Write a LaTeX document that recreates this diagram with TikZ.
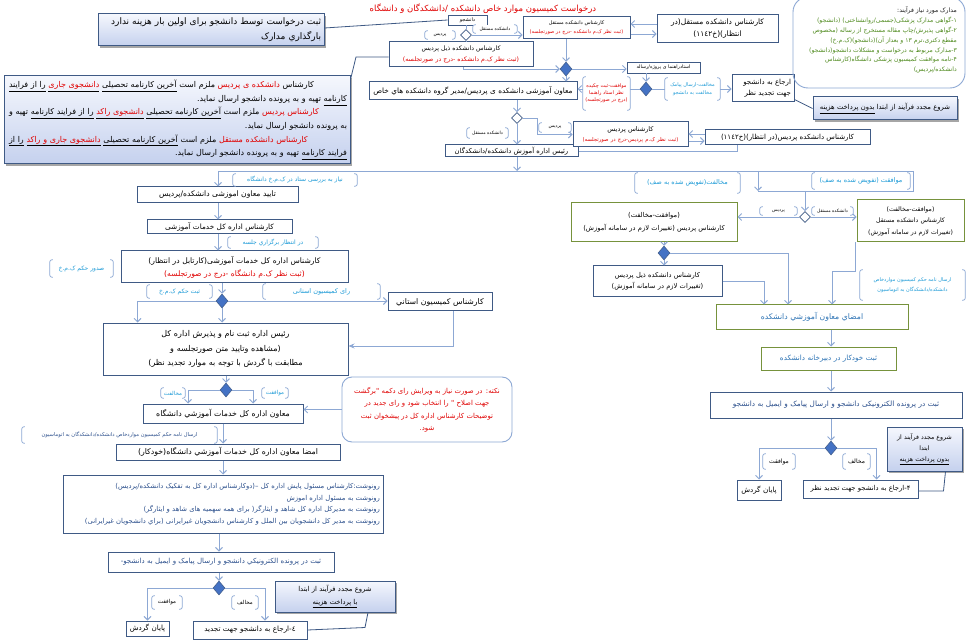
\documentclass[tikz,border=0pt]{standalone}
\usepackage{fontspec}
\setmainfont{DejaVu Sans}
\newfontfamily\fa[Script=Arabic]{DejaVu Sans}
\newfontfamily\faRd[Script=Arabic,Color=E00000]{DejaVu Sans}
\newfontfamily\faBk[Script=Arabic,Color=1A1A1A]{DejaVu Sans}
\TeXXeTstate=1
\usetikzlibrary{arrows.meta,shapes.geometric,shadows}
\definecolor{bxc}{HTML}{3F5A85}
\definecolor{lnc}{HTML}{8DA8D4}
\definecolor{cyn}{HTML}{1E9BD7}
\definecolor{gbc}{HTML}{76923C}
\definecolor{dfc}{HTML}{4472C4}
\definecolor{grn}{HTML}{4F8A1E}
\definecolor{dbl}{HTML}{2B4F8C}
\definecolor{tbl}{HTML}{2E74B5}
\definecolor{rd}{HTML}{E00000}
\definecolor{shA}{HTML}{F5F7FD}
\definecolor{shB}{HTML}{C5D1EE}
\newcommand\rtl[1]{\mbox{\beginR#1\endR}}
\newcommand\jrtl[1]{\makebox[338pt][s]{\beginR#1\endR}}
\newcommand\crtl[2]{\mbox{#1\beginR#2\endR}}
\newcommand\urtl[1]{\mbox{\underline{\beginR#1\endR}}}
\newcommand\curtl[2]{\mbox{#1\underline{\beginR#2\endR}}}
\newcommand\bx[7][]{%
 \pgfmathsetmacro\bxW{#5-#3}\pgfmathsetmacro\bxH{#6-#4}\pgfmathsetmacro\bxT{#5-#3-6}%
 \pgfmathsetmacro\bxX{(#3+#5)/2}\pgfmathsetmacro\bxY{(#4+#6)/2}%
 \node[box,#1,minimum width=\bxW pt,minimum height=\bxH pt,text width=\bxT pt] (#2) at (\bxX,\bxY) {#7};}
\newcommand\blab[7][]{%
 \pgfmathsetmacro\bxW{#5-#3}\pgfmathsetmacro\bxH{#6-#4}%
 \pgfmathsetmacro\bxX{(#3+#5)/2}\pgfmathsetmacro\bxY{(#4+#6)/2}%
 \node[lbl,#1,minimum width=\bxW pt,minimum height=\bxH pt] (#2) at (\bxX,\bxY) {#7};
 \draw[brk] ([xshift=3pt]#2.north west) -| (#2.west) |- ([xshift=3pt]#2.south west);
 \draw[brk] ([xshift=-3pt]#2.north east) -| (#2.east) |- ([xshift=-3pt]#2.south east);}
\begin{document}
\begin{tikzpicture}[x=1pt,y=-1pt,
 fz/.style 2 args={font=\fa\fontsize{#1}{#2}\selectfont},
 box/.style={draw=bxc,line width=1pt,fill=white,inner sep=1pt,align=center,text=black},
 gbox/.style={draw=gbc},
 shbox/.style={top color=shA,bottom color=shB,drop shadow={shadow xshift=1.8pt,shadow yshift=-1.8pt,opacity=0.35,fill=black}},
 lbl/.style={inner sep=0pt,align=center,fill=white},
 brk/.style={draw=lnc,line width=0.7pt,rounded corners=2pt},
 ln/.style={draw=lnc,line width=0.9pt},
 ar/.style={ln,-{Straight Barb[length=3.5pt,width=7pt]}},
 dk/.style={draw=bxc,line width=0.8pt},
 dfill/.style={diamond,draw=bxc,fill=dfc,line width=0.5pt,minimum width=12pt,minimum height=14pt,inner sep=0pt},
 dhol/.style={diamond,draw=bxc,fill=white,line width=0.8pt,minimum width=11pt,minimum height=11pt,inner sep=0pt},
]
\useasboundingbox (0,0) rectangle (969,644);
\fill[white] (0,0) rectangle (969,644);

% ---------- top area ----------
\node[fz={8.5}{10},text=rd] (title) at (483,9) {\rtl{درخواست کمیسیون موارد خاص دانشکده /دانشکدگان و دانشگاه}};
\bx[shbox,align=right,fz={9}{15}]{A}{98}{14}{324}{46}{\rtl{ثبت درخواست توسط دانشجو برای اولین بار هزینه ندارد}\\\rtl{بارگذاري مدارک}}
\bx[fz={5}{6},line width=0.8pt]{stu}{448}{15}{487}{25}{\rtl{دانشجو}}
\node[dhol] (D0) at (466,35) {};
\bx[fz={5}{9}]{B1}{523}{17}{630}{39}{\rtl{کارشناس دانشکده مستقل}\\\rtl{\crtl{\faRd}{(ثبت نظر ک.م دانشکده -درج در صورتجلسه)}}}
\bx[fz={7.5}{12}]{W1}{657}{15}{778}{43}{\rtl{کارشناس دانشکده مستقل(در}\\\rtl{انتظار)(خ۱۱٤۲)}}
\bx[fz={6.2}{10.5}]{B2}{389}{42}{533}{67}{\rtl{کارشناس دانشکده ذیل پردیس}\\\rtl{\crtl{\faRd}{(ثبت نظر ک.م دانشکده -درج در صورتجلسه)}}}
\node[dfill] (D1) at (566,69) {};
\bx[fz={4.8}{6},line width=0.8pt]{C1}{627}{62}{700}{73}{\rtl{استادراهنما ی پروژه/رساله}}
\node[dfill] (D2) at (646,89) {};
\bx[fz={7.3}{8}]{B3}{369}{82}{577}{100}{\rtl{معاون آموزشی دانشکده ی پردیس/مدیر گروه دانشکده هاي خاص}}
\bx[align=right,fz={7}{11}]{C2}{732}{75}{794}{102}{\rtl{ارجاع به دانشجو}\\\rtl{جهت تجدید نظر}}
\bx[shbox,fz={6.8}{8}]{C3}{813}{97}{957}{120}{\rtl{شروع مجدد فرآیند از ابتدا \urtl{بدون پرداخت هزینه}}}
\draw[draw=lnc,line width=0.9pt,rounded corners=15pt] (793,-3) rectangle (965,88);
\node[fz={6.1}{9.8},text=grn,align=right,anchor=north east,inner sep=0pt] (R1t) at (957,7) {\rtl{\crtl{\faBk}{مدارک مورد نیاز فرآیند:}}\\\rtl{۱-گواهی مدارک پزشکی(جسمی/روانشناختی) (دانشجو)}\\\rtl{۲-گواهی پذیرش/چاپ مقاله مستخرج از رساله (مخصوص}\\\rtl{مقطع دکتری،ترم ۱۳ و بعداز آن)(دانشجو)(ک.م.خ)}\\\rtl{۳-مدارک مربوط به درخواست و مشکلات دانشجو(دانشجو)}\\\rtl{۴-نامه موافقت کمیسیون پزشکی دانشگاه(کارشناس}\\\rtl{دانشکده/پردیس)}};
\node[dhol] (D3) at (517,118) {};
\bx[fz={6.8}{8}]{B4}{445}{145}{578}{157}{\rtl{رئیس اداره آموزش دانشکده/دانشکدگان}}
\bx[fz={6.5}{10}]{B5}{573}{122}{688}{147}{\rtl{کارشناس پردیس}\\\rtl{\crtl{\faRd\fontsize{5.3}{6}\selectfont}{(ثبت نظر ک.م پردیس-درج در صورتجلسه)}}}
\bx[fz={7}{8}]{B6}{705}{130}{870}{145}{\rtl{کارشناس دانشکده پردیس(در انتظار)(خ۱۱٤۲)}}
\bx[shbox,align=right,fz={8}{13.6}]{T}{4}{76}{350}{164}{%
\jrtl{کارشناس \crtl{\faRd}{دانشکده ی پردیس} ملزم است \urtl{آخرین کارنامه تحصیلی} \curtl{\faRd}{دانشجوی جاری} \urtl{را از فرایند}}\\
\rtl{\urtl{کارنامه} تهیه و به پرونده دانشجو ارسال نماید.}\\
\jrtl{\crtl{\faRd}{کارشناس پردیس} ملزم است \urtl{آخرین کارنامه تحصیلی} \curtl{\faRd}{دانشجوی راکد} \urtl{را از فرایند کارنامه} تهیه و}\\
\rtl{به پرونده دانشجو ارسال نماید.}\\
\jrtl{\crtl{\faRd}{کارشناس دانشکده مستقل} ملزم است \urtl{آخرین کارنامه تحصیلی} \curtl{\faRd}{دانشجوی جاری و راکد} \urtl{را از}}\\
\rtl{\urtl{فرایند کارنامه} تهیه و به پرونده دانشجو ارسال نماید.}}

% ---------- left column ----------
\bx[fz={7.6}{8}]{L1}{137}{187}{298}{203}{\rtl{تایید معاون اموزشی دانشکده/پردیس}}
\bx[fz={7.3}{8}]{L2}{147}{220}{292}{234}{\rtl{کارشناس اداره کل خدمات آموزشی}}
\bx[fz={7.6}{13}]{L3}{121}{251}{348}{283}{\rtl{کارشناس اداره کل خدمات آموزشی(کارتابل در انتظار)}\\\rtl{\crtl{\faRd}{(ثبت نظر ک.م دانشگاه  -درج در صورتجلسه)}}}
\node[dfill] (D5) at (222,301) {};
\bx[fz={7.8}{8}]{L5}{388}{293}{492}{311}{\rtl{کارشناس کمیسیون استاني}}
\bx[fz={8}{14.5}]{L4}{103}{323}{348}{375}{\rtl{رئیس اداره ثبت نام و پذیرش اداره کل}\\\rtl{(مشاهده وتایید متن صورتجلسه و}\\\rtl{مطابقت با گردش با توجه به موارد تجدید نظر)}}
\node[dfill] (D6) at (226,390) {};
\bx[fz={7.8}{8}]{L6}{143}{404}{303}{423}{\rtl{معاون اداره کل خدمات آموزشي دانشگاه}}
\bx[draw=lnc,line width=0.9pt,rounded corners=10pt,text=rd,fz={6.9}{12.5}]{N}{342}{377}{512}{442}{\rtl{نکته: در صورت نیاز به ویرایش رای دکمه "برگشت}\\\rtl{جهت اصلاح " را انتخاب  شود و رای جدید در}\\\rtl{توضیحات  کارشناس  اداره کل در پیشخوان ثبت}\\\rtl{شود.}}
\bx[fz={7.8}{8}]{L7}{116}{444}{340}{460}{\rtl{امضا معاون اداره کل خدمات آموزشي دانشگاه(خودکار)}}
\bx[align=right,text=dbl,fz={6.8}{11.5}]{L8}{63}{475}{383}{533}{\rtl{رونوشت:کارشناس مسئول پایش اداره کل –(دوکارشناس  اداره کل به تفکیک دانشکده/پردیس)}\\\rtl{رونوشت به مسئول اداره اموزش}\\\rtl{رونوشت  به مدیرکل اداره کل شاهد و ایثارگر( برای  همه سهمیه های شاهد و ایثارگر)}\\\rtl{رونوشت به مدیر کل دانشجویان بین الملل و کارشناس دانشجویان غیرایرانی (براي دانشجویان غیرایرانی)}}
\bx[text=dbl,fz={7}{8}]{L9}{108}{552}{334}{572}{\rtl{ثبت در پرونده الکترونیکي دانشجو و ارسال پیامک و ایمیل به دانشجو-}}
\node[dfill] (D7) at (219,588) {};
\bx[fz={7.2}{8}]{L10}{126}{621}{169}{636}{\rtl{پایان گردش}}
\bx[fz={7.2}{8}]{L11}{193}{621}{307}{639}{\rtl{٤-ارجاع به دانشجو جهت تجدید}}
\bx[shbox,fz={6.8}{13}]{L12}{275}{581}{395}{612}{\rtl{شروع مجدد فرآیند از ابتدا}\\\urtl{با پرداخت هزینه}}

% ---------- right column ----------
\node[dhol] (D4) at (805,217) {};
\bx[gbox,fz={6.2}{11.5}]{R2}{857}{200}{964}{242}{\rtl{(موافقت-مخالفت)}\\\rtl{کارشناس دانشکده مستقل}\\\rtl{(تغییرات لازم در سامانه آموزش)}}
\bx[gbox,fz={6.7}{13}]{R3}{571}{203}{737}{242}{\rtl{(موافقت-مخالفت)}\\\rtl{کارشناس پردیس (تغییرات لازم در سامانه آموزش)}}
\node[dfill] (D8) at (664,253) {};
\bx[fz={6.7}{11}]{R4}{593}{266}{722}{297}{\rtl{کارشناس دانشکده ذیل پردیس}\\\rtl{(تغییرات لازم در سامانه آموزش)}}
\bx[gbox,text=tbl,fz={7.7}{8}]{R5}{716}{305}{908}{329}{\rtl{امضاي معاون آموزشي دانشکده}}
\bx[gbox,text=tbl,fz={7.2}{8}]{R6}{761}{347}{896}{370}{\rtl{ثبت خودکار در دبیرخانه دانشکده}}
\bx[text=dbl,fz={7.3}{8}]{R7}{710}{392}{962}{418}{\rtl{ثبت در پرونده الکترونیکی دانشجو و ارسال پیامک و ایمیل به دانشجو}}
\node[dfill] (D9) at (831,448) {};
\bx[fz={7.2}{8}]{R8}{737}{480}{781}{500}{\rtl{پایان گردش}}
\bx[fz={6.8}{8}]{R9}{803}{480}{918}{498}{\rtl{۴-ارجاع به دانشجو جهت تجدید نظر}}
\bx[shbox,fz={6.2}{11}]{R10}{887}{427}{962}{471}{\rtl{شروع مجدد فرآیند از}\\\rtl{ابتدا}\\\urtl{بدون پرداخت هزینه}}

% ---------- connectors ----------
\coordinate (h1) at (218,171);
\coordinate (h2) at (913,171);
\coordinate (h3) at (758,171);
\coordinate (h4) at (758,191);
\coordinate (h5) at (913,191);
\coordinate (tb) at (356,57);
\path ([yshift=5pt]W1.west) coordinate (w1a) ([yshift=-5pt]W1.west) coordinate (w1b);
\path ([yshift=3.5pt]B6.west) coordinate (b6a) ([yshift=-3.5pt]B6.west) coordinate (b6b);

\draw[dk] ([yshift=2pt]A.east) -- (stu.west);
\draw[ln] (stu.south -| D0) -- (D0.north);
\draw[ar] (D0.east) -- (D0.east -| B1.west);
\draw[ln] (D0.south) -- (D0.south |- B2.north);
\draw[dk] ([yshift=-4pt]T.north east) -- (tb) -- (tb -| B2.west);
\draw[ar] (B1.south -| D1) -- (D1.north);
\draw[ar] (w1a) -- (w1a -| B1.east);
\draw[ar] (w1b -| B1.east) -- (w1b);
\draw[ar] ([xshift=2pt]B2.south) |- (D1.west);
\draw[ar] (D1.east) -- (D1.east -| C1.west);
\draw[ar] (D1.south) -- (D1.south |- B3.north);
\draw[ar] (C1.south -| D2) -- (D2.north);
\draw[ar] (D2.west) -- (D2.west -| B3.east);
\draw[ar] (D2.east) -- (D2.east -| C2.west);
\draw[dk] ([yshift=3pt]C2.south east) -- (C3.west);
\draw[ar] (B3.south -| D3) -- (D3.north);
\draw[ar] (D3.south) -- (D3.south |- B4.north);
\draw[ar] (D3.east) -- ++(15,0) |- (B5.west);
\draw[ar] (b6a) -- (b6a -| B5.east);
\draw[ar] (b6b -| B5.east) -- (b6b);
\draw[ln] ([xshift=-50pt]B6.south) |- (B4.east);
\draw[ar] (B4.south -| D3) -- (D3 |- h1);
\draw[ln] (h1) -- (h2);
\draw[ar] (h1) -- (h1 |- L1.north);
\draw[ar] (h3) -- (h4);
\draw[ln] (h2) -- (h5) -- (h4);
\draw[ar] (D4 |- h4) -- (D4.north);
\draw[ar] (D4.east) -- (D4.east -| R2.west);
\draw[ar] (D4.west) -- (D4.west -| R3.east);
\draw[ar] (R3.south -| D8) -- (D8.north);
\draw[ar] (D8.south) -- (D8.south |- R4.north);
\draw[ar] (D8.east) -| ([xshift=-24pt]R5.north);
\draw[ar] (R4.east) -| ([xshift=-48pt]R5.north);
\draw[ar] ([xshift=-1pt]R2.south west) -- ++(0,29) -| ([xshift=20pt]R5.north);
\draw[ar] (R5.south -| D9) -- (R6.north -| D9);
\draw[ar] (R6.south -| D9) -- (R7.north -| D9);
\draw[ar] (R7.south -| D9) -- (D9.north);
\draw[ar] (D9.west) -| (R8.north);
\draw[ar] (D9.east) -| ([xshift=16pt]R9.north);
\draw[dk] ([xshift=-17pt]R10.south east) -- ([xshift=25pt,yshift=-2pt]R9.east) -- ([yshift=-2pt]R9.east);

\draw[ar] (L1.south -| h1) -- (L2.north -| h1);
\draw[ar] (L2.south -| h1) -- (L3.north -| h1);
\draw[ar] (L3.south -| D5) -- (D5.north);
\draw[ar] (D5.west) -| ([xshift=-88pt]L4.north);
\draw[ar] (D5.south) -- (D5.south |- L4.north);
\draw[ar] (D5.east) -- (D5.east -| L5.west);
\draw[ln,-{Stealth[length=6pt,width=5pt,fill=dfc]}] ([xshift=13pt]L5.south) |- ([yshift=3pt]L4.east);
\draw[ar] (L4.south -| D6) -- (D6.north);
\draw[ar] (D6.west) -| ([xshift=-35pt]L6.north);
\draw[ar] (D6.east) -| ([xshift=30pt]L6.north);
\draw[ar] (N.west) -- (N.west -| L6.east);
\draw[ar] (L6.south) -- (L6.south |- L7.north);
\draw[ar] (L6.south |- L7.south) -- (L6.south |- L8.north);
\draw[ar] (L8.south -| D7) -- (L9.north -| D7);
\draw[ar] (L9.south -| D7) -- (D7.north);
\draw[ar] (D7.west) -| (L10.north);
\draw[ar] (D7.east) -| ([xshift=15pt]L11.north);
\draw[dk] (L11.east) -- ([xshift=30pt,yshift=-15pt]L12.south) -- ([xshift=33pt]L12.south);

% ---------- labels ----------
\blab[fz={4.5}{5}]{lb1}{473}{25}{517}{33}{\rtl{دانشکده مستقل}}
\blab[fz={4.5}{5}]{lb2}{425}{31}{455}{39}{\rtl{پردیس}}
\blab[text=rd,fz={5}{7}]{lb3}{583}{77}{630}{110}{\rtl{موافقت-ثبت چکیده}\\\rtl{نظر استاد راهنما}\\\rtl{(درج در صورتجلسه)}}
\blab[text=cyn,fz={5}{7.5}]{lb4}{665}{78}{720}{100}{\rtl{مخالفت-ارسال پیامک}\\\rtl{مخالفت به دانشجو}}
\blab[fz={4.5}{5}]{lb5}{467}{128}{508}{138}{\rtl{دانشکده مستقل}}
\blab[fz={4.5}{5}]{lb6}{539}{123}{571}{132}{\rtl{پردیس}}
\blab[text=cyn,fz={6}{7}]{lb7}{233}{174}{357}{186}{\rtl{نیاز به بررسی ستاد در ک.م.خ دانشگاه}}
\blab[text=cyn,fz={6.5}{7}]{lb8}{635}{173}{740}{193}{\rtl{مخالفت(تفویض شده به صف)}}
\blab[text=cyn,fz={6.5}{7}]{lb9}{812}{173}{910}{189}{\rtl{موافقت (تفویض شده به صف)}}
\blab[fz={4.5}{5}]{lb10}{812}{207}{853}{215}{\rtl{دانشکده مستقل}}
\blab[fz={4.5}{5}]{lb11}{760}{207}{797}{215}{\rtl{پردیس}}
\blab[text=cyn,fz={6}{7}]{lb12}{228}{237}{318}{248}{\rtl{در انتظار برگزاري جلسه}}
\blab[text=cyn,fz={6}{7}]{lb13}{50}{260}{113}{277}{\rtl{صدور حکم ک.م.خ}}
\blab[text=cyn,fz={6}{7}]{lb14}{147}{285}{212}{298}{\rtl{ثبت  حکم ک.م.خ}}
\blab[text=cyn,fz={6.5}{7}]{lb15}{263}{284}{380}{299}{\rtl{رای کمیسیون استانی}}
\blab[text=cyn,fz={5.5}{6.5}]{lb16}{161}{388}{185}{398}{\rtl{مخالفت}}
\blab[text=cyn,fz={5.5}{6.5}]{lb17}{262}{388}{288}{398}{\rtl{موافقت}}
\blab[text=dbl,fz={5.2}{6}]{lb18}{22}{427}{217}{443}{\rtl{ارسال نامه حکم کمیسیون مواردخاص دانشکده/دانشکدگان به اتوماسیون}}
\blab[fz={5.5}{6.5}]{lb19}{152}{596}{182}{609}{\rtl{موافقت}}
\blab[fz={5.5}{6.5}]{lb20}{232}{596}{258}{609}{\rtl{مخالف}}
\blab[text=cyn,fz={5}{9.5}]{lb21}{860}{270}{965}{300}{\rtl{ارسال نامه حکم کمیسیون مواردخاص}\\\rtl{دانشکده/دانشکدگان به اتوماسیون}}
\blab[fz={6}{7}]{lb22}{763}{454}{795}{469}{\rtl{موافقت}}
\blab[fz={6}{7}]{lb23}{843}{454}{870}{469}{\rtl{مخالف}}
\end{tikzpicture}
\end{document}
